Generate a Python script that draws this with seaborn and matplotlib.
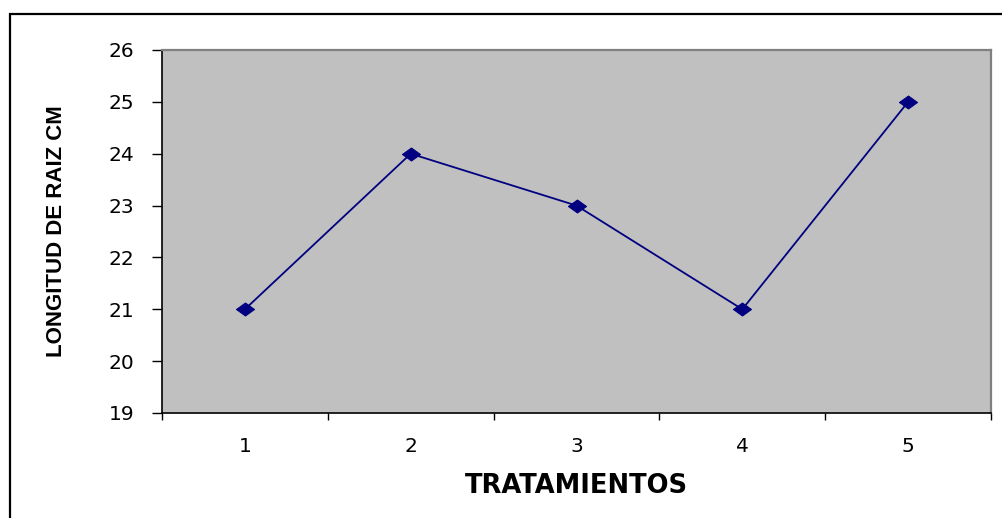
import matplotlib
matplotlib.use("Agg")
import matplotlib.pyplot as plt
import matplotlib.patches as mpatches
import seaborn as sns
import pandas as pd

# Root length per treatment
tratamientos = [1, 2, 3, 4, 5]
longitud_cm = [21, 24, 23, 21, 25]
y_ticks = [19, 20, 21, 22, 23, 24, 25, 26]

sns.set_style("white")
plt.rcParams["font.family"] = ["DejaVu Sans"]
plt.rcParams["text.color"] = "black"
plt.rcParams["axes.labelcolor"] = "black"
plt.rcParams["xtick.color"] = "black"
plt.rcParams["ytick.color"] = "black"

df = pd.DataFrame({"TRATAMIENTOS": tratamientos, "LONGITUD": longitud_cm})

fig = plt.figure(figsize=(10.03, 5.18), dpi=100)
ax = fig.add_axes([162 / 1003, 1 - 413 / 518, (991 - 162) / 1003, (413 - 50) / 518])
ax.set_facecolor("#C0C0C0")

# flattened diamond marker
diamond = [(-1.0, 0.0), (0.0, 0.72), (1.0, 0.0), (0.0, -0.72), (-1.0, 0.0)]
sns.lineplot(data=df, x="TRATAMIENTOS", y="LONGITUD", ax=ax, color="#000080",
             linewidth=1.3, marker=diamond, markersize=13,
             markerfacecolor="#000080", markeredgecolor="#000080")

ax.set_ylim(19, 26)
ax.set_yticks(y_ticks)
ax.set_yticklabels([str(v) for v in y_ticks])
ax.tick_params(axis="y", direction="out", length=7.2, width=1, colors="black",
               pad=13, labelsize=14.5, left=True)

# category boundaries carry tick marks, category centres carry labels
ax.set_xlim(0.5, 5.5)
ax.set_xticks([0.5 + i for i in range(len(tratamientos) + 1)])
ax.set_xticklabels([])
ax.set_xticks(tratamientos, minor=True)
ax.set_xticklabels([str(t) for t in tratamientos], minor=True)
ax.tick_params(axis="x", which="major", direction="out", length=5, width=1,
               colors="black", bottom=True)
ax.tick_params(axis="x", which="minor", length=0, pad=17, labelsize=14.5,
               labelcolor="black", bottom=True)

for side in ("left", "bottom"):
    ax.spines[side].set_color("black")
    ax.spines[side].set_linewidth(1.2)
for side in ("top", "right"):
    ax.spines[side].set_visible(True)
    ax.spines[side].set_color("#808080")
    ax.spines[side].set_linewidth(1.6)

ax.set_xlabel("TRATAMIENTOS", fontsize=18.5, fontweight="bold", color="black")
ax.xaxis.set_label_coords(0.5, -0.165)
ax.xaxis.label.set_verticalalignment("top")

ax.set_ylabel("LONGITUD DE RAIZ CM", fontsize=16, fontweight="heavy", color="black",
              family=["Liberation Sans", "DejaVu Sans"])
ax.yaxis.set_label_coords(-0.1267, 0.5)
ax.yaxis.label.set_verticalalignment("center")

# chart frame
frame = mpatches.Rectangle((10 / 1003, -0.2), 1.2, 1.2 - 14 / 518,
                           transform=fig.transFigure, fill=False,
                           edgecolor="black", linewidth=1.6, clip_on=False)
fig.patches.append(frame)

fig.savefig("out.png", dpi=100, facecolor="white")
